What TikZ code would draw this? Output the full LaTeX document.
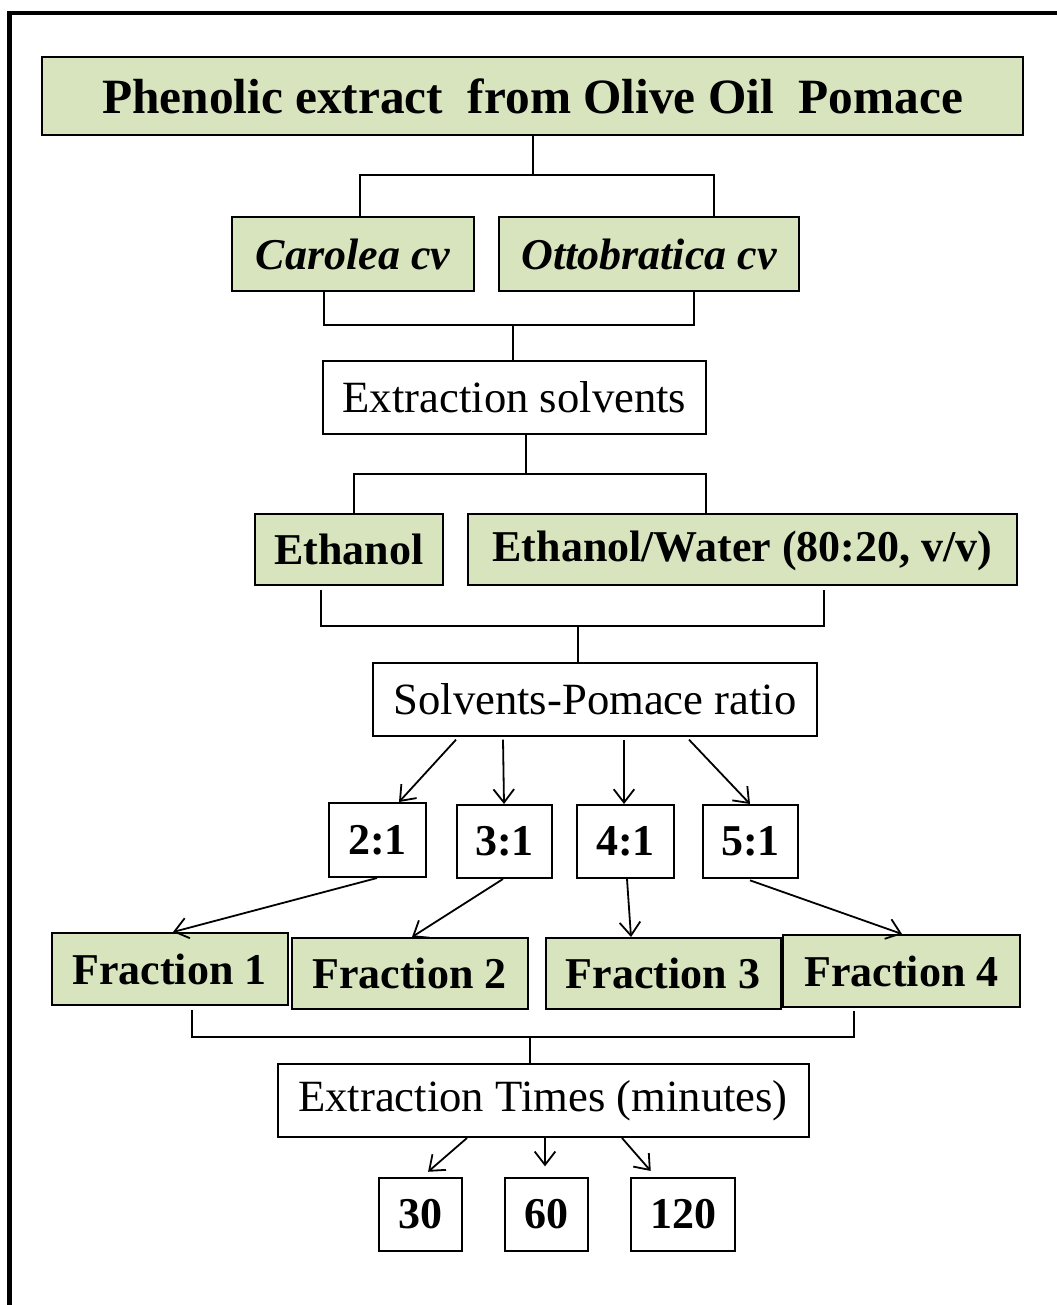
\documentclass[tikz,border=0pt]{standalone}
\usepackage{fontspec}
\setmainfont{Liberation Serif}
\usetikzlibrary{arrows.meta}
\definecolor{olivefill}{HTML}{D7E4BD}
\begin{document}
\begin{tikzpicture}[x=0.75pt,y=-0.75pt,
  box/.style={draw=black,line width=1.5pt,inner sep=0pt,align=center,
    font=\fontsize{33.5}{36}\selectfont},
  gbox/.style={box,fill=olivefill,font=\fontsize{33}{36}\selectfont\bfseries},
  wbox/.style={box,fill=white},
  nbox/.style={box,fill=white,font=\fontsize{33}{36}\selectfont\bfseries},
  conn/.style={line width=1.35pt},
  arr/.style={line width=1.35pt,-{Straight Barb[length=10pt,width=15.5pt]}}]
\useasboundingbox (0,0) rectangle (1056,1305);
\fill[white] (0,0) rectangle (1056,1305);
% outer frame (cut by the page on right and bottom)
\draw[line width=3.5pt] (9.7,1330) -- (9.7,13) -- (1080,13);

% nodes
\node[gbox,minimum width=735.75pt,minimum height=58.5pt,
  font=\fontsize{37}{40}\selectfont\bfseries] (title) at (532.5,96)
  {Phenolic extract\ \ from Olive Oil\ \ Pomace};
\node[gbox,minimum width=181.5pt,minimum height=55.5pt] (car) at (353,254) {\itshape Carolea cv};
\node[gbox,minimum width=225pt,minimum height=55.5pt] (ott) at (649,254) {\itshape Ottobratica cv};
\node[wbox,minimum width=287.25pt,minimum height=54.75pt] (es) at (514.5,397.5) {Extraction solvents};
\node[gbox,minimum width=141pt,minimum height=53.25pt] (eth) at (349,549.5) {Ethanol};
\node[gbox,minimum width=411.75pt,minimum height=53.25pt,text height=23pt,text depth=5pt] (ew) at (742.5,549.5) {Ethanol/Water (80:20, v/v)};
\node[wbox,minimum width=333pt,minimum height=54.75pt] (spr) at (595,699.5) {Solvents-Pomace ratio};
\node[nbox,minimum width=72.75pt,minimum height=55.5pt] (r2) at (377.5,840) {2:1};
\node[nbox,minimum width=71.25pt,minimum height=54.75pt] (r3) at (504.5,841.5) {3:1};
\node[nbox,minimum width=72.75pt,minimum height=54.75pt] (r4) at (625.5,841.5) {4:1};
\node[nbox,minimum width=71.25pt,minimum height=54.75pt] (r5) at (750.5,841.5) {5:1};
\node[gbox,minimum width=177pt,minimum height=54pt] (f1) at (169.5,969) {Fraction 1};
\node[gbox,minimum width=177pt,minimum height=53.25pt] (f2) at (409.5,973.5) {Fraction 2};
\node[gbox,minimum width=176.25pt,minimum height=53.25pt] (f3) at (663,973.5) {Fraction 3};
\node[gbox,minimum width=177.75pt,minimum height=54pt] (f4) at (901.5,971) {Fraction 4};
\node[wbox,minimum width=398.25pt,minimum height=54.75pt] (et) at (543,1100.5) {Extraction Times (minutes)};
\node[nbox,minimum width=62.25pt,minimum height=54.75pt] (t30) at (420.5,1214.5) {30};
\node[nbox,minimum width=62.25pt,minimum height=54.75pt] (t60) at (546.5,1214.5) {60};
\node[nbox,minimum width=78pt,minimum height=54.75pt] (t120) at (683,1214.5) {120};

% helper x-positions
\path (533,175) coordinate (j1)
      (360,0) coordinate (x1a) (714,0) coordinate (x1b)
      (513,325) coordinate (j2)
      (324,0) coordinate (x2a) (694,0) coordinate (x2b)
      (526,474) coordinate (j3)
      (354,0) coordinate (x3a) (706,0) coordinate (x3b)
      (578,626) coordinate (j4)
      (321,0) coordinate (x4a) (824,0) coordinate (x4b)
      (530,1037) coordinate (j5)
      (192,0) coordinate (x5a) (854,0) coordinate (x5b)
      (456,0) coordinate (a1) (399,0) coordinate (b1)
      (503,0) coordinate (a2) (504,0) coordinate (b2)
      (624,0) coordinate (a3) (624,0) coordinate (b3)
      (689,0) coordinate (a4) (750,0) coordinate (b4)
      (377,0) coordinate (c1) (173,0) coordinate (d1)
      (503,0) coordinate (c2) (412,0) coordinate (d2)
      (627,0) coordinate (c3) (631,0) coordinate (d3)
      (750,0) coordinate (c4) (902,0) coordinate (d4)
      (467,0) coordinate (e1) (422,0) coordinate (g1)
      (545,0) coordinate (e2) (545,0) coordinate (g2)
      (622,0) coordinate (e3) (656,0) coordinate (g3);

% brackets
\draw[conn] (title.south -| j1) -- (j1);
\draw[conn] (car.north -| x1a) |- (j1) -| (ott.north -| x1b);
\draw[conn] (car.south -| x2a) |- (j2) -| (ott.south -| x2b);
\draw[conn] (j2) -- (es.north -| j2);
\draw[conn] (es.south -| j3) -- (j3);
\draw[conn] (eth.north -| x3a) |- (j3) -| (ew.north -| x3b);
\draw[conn] ([yshift=-3pt]eth.south -| x4a) |- (j4) -| ([yshift=-3pt]ew.south -| x4b);
\draw[conn] (j4) -- (spr.north -| j4);
\draw[conn] ([yshift=-3pt]f1.south -| x5a) |- (j5) -| ([yshift=-2pt]f4.south -| x5b);
\draw[conn] (j5) -- (et.north -| j5);

% arrows
\draw[arr] ([yshift=-2pt]spr.south -| a1) -- (r2.north -| b1);
\draw[arr] ([yshift=-2pt]spr.south -| a2) -- (r3.north -| b2);
\draw[arr] ([yshift=-2pt]spr.south -| a3) -- (r4.north -| b3);
\draw[arr] ([yshift=-2pt]spr.south -| a4) -- (r5.north -| b4);
\draw[arr] (r2.south -| c1) -- (f1.north -| d1);
\draw[arr] (r3.south -| c2) -- (f2.north -| d2);
\draw[arr] (r4.south -| c3) -- (f3.north -| d3);
\draw[arr] ([yshift=-1pt]r5.south -| c4) -- (f4.north -| d4);
\draw[arr,shorten >=6pt] (et.south -| e1) -- (t30.north -| g1);
\draw[arr,shorten >=8pt] (et.south -| e2) -- (t60.north -| g2);
\draw[arr,shorten >=6pt] (et.south -| e3) -- (t120.north -| g3);
\end{tikzpicture}
\end{document}
